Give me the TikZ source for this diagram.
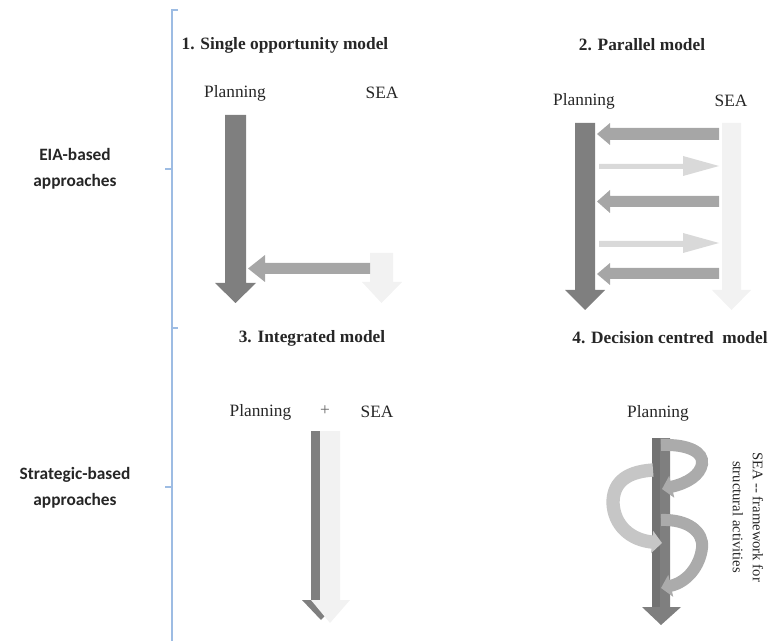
\documentclass[tikz,border=0pt]{standalone}
\usepackage{fontspec}
\setmainfont{Liberation Serif}
\newfontfamily\textserif{Liberation Serif}
\newfontfamily\sidefont{Carlito}
\usetikzlibrary{arrows.meta}

\definecolor{plancol}{HTML}{7F7F7F}
\definecolor{plandark}{HTML}{727272}
\definecolor{feedcol}{HTML}{A6A6A6}
\definecolor{backcol}{HTML}{D9D9D9}
\definecolor{seacol}{HTML}{F2F2F2}
\definecolor{axiscol}{HTML}{9DBCE3}
\definecolor{inkcol}{HTML}{262626}
\definecolor{loopcol}{HTML}{ABABAB}
\definecolor{leftloopcol}{HTML}{C6C6C6}

% block arrow pointing down: shaft x1..x2 from ytop, head from yhead (hx1..hx2) to ytip
\newcommand{\blockdown}[8]{%
  \fill[#8] (#1,#3) -- (#2,#3) -- (#2,#4) -- (#6,#4) -- ({(#1+#2)/2},#7)
    -- (#5,#4) -- (#1,#4) -- cycle;}
% horizontal block arrow: tail x, head base x, tip x, shaft y1..y2, head y1..y2
\newcommand{\blockh}[8]{%
  \fill[#8] (#1,#4) -- (#2,#4) -- (#2,#6) -- (#3,{(#6+#7)/2}) -- (#2,#7)
    -- (#2,#5) -- (#1,#5) -- cycle;}

\tikzset{
  title/.style={font=\textserif\bfseries\fontsize{13}{15}\selectfont, text=inkcol},
  lane/.style={font=\textserif\fontsize{13}{15}\selectfont, text=inkcol},
  side/.style={font=\sidefont\bfseries\fontsize{13}{19.5}\selectfont, text=inkcol, align=center},
  axisline/.style={draw=axiscol, line width=1.5pt},
  band/.style={line width=9pt, -{Triangle[length=7.5pt,width=16.5pt]}},
}

\begin{document}
\begin{tikzpicture}[x=0.75pt,y=-0.75pt]
\useasboundingbox (0,0) rectangle (770,641);

% category axis
\draw[axisline] (178,10) -- (172,10) -- (172,641);
\draw[axisline] (165,169) -- (172,169);
\draw[axisline] (172,328) -- (178,328);
\draw[axisline] (165,487) -- (172,487);

\node[side] (eia) at (75,169) {EIA-based\\approaches};
\node[side] (strat) at (75,488) {Strategic-based\\approaches};

% 1. Single opportunity model
\node[title] (t1) at (285,45) {1. Single opportunity model};
\node[lane] (p1) at (235,93) {Planning};
\node[lane] (s1) at (382,93) {SEA};
\blockdown{225}{246}{115}{283}{215}{256}{303}{plancol}
\blockdown{370}{393}{253}{282}{362}{402}{303}{seacol}
\blockh{370}{265}{248}{263}{274}{255}{282}{feedcol}

% 2. Parallel model
\node[title] (t2) at (642,45) {2. Parallel model};
\node[lane] (p2) at (584,101) {Planning};
\node[lane] (s2) at (731,101) {SEA};
\blockdown{575}{595}{123}{290}{565}{605}{310}{plancol}
\blockdown{722}{741}{123}{290}{712}{751}{310}{seacol}
\blockh{719}{610}{597}{128}{140}{123}{145}{feedcol}
\blockh{719}{610}{597}{196}{207}{190}{213}{feedcol}
\blockh{719}{610}{597}{268}{279}{263}{285}{feedcol}
\blockh{599}{683}{719}{164}{169}{156}{176}{backcol}
\blockh{599}{683}{719}{241}{247}{233}{253}{backcol}

% 3. Integrated model
\node[title] (t3) at (312,338) {3. Integrated model};
\node[lane, anchor=east] (p3) at (296,412) {Planning};
\node[lane, text=inkcol!70] (plus) at (325,411) {+};
\node[lane] (s3) at (377,412) {SEA};
\blockdown{311}{331}{431}{600}{302}{340}{620}{plancol}
\blockdown{320}{340}{431}{600}{311}{350}{623}{seacol}

% 4. Decision centred model
\node[title] (t4) at (670,338) {4. Decision centred\ \ model};
\node[lane] (p4) at (658,413) {Planning};
\blockdown{652}{670}{438}{607}{642}{681}{625}{plancol}
\fill[plandark] (652,438) rectangle (660,607);
\draw[band, loopcol] (661,445) .. controls (688,444) and (704,452) .. (702,464)
  .. controls (700,475) and (688,483) .. (662,489);
\draw[band, leftloopcol, line width=10pt] (653,470) .. controls (622,472) and (613,486) .. (613,503)
  .. controls (614,525) and (630,540) .. (662,543);
\draw[band, loopcol] (661,520) .. controls (688,519) and (704,532) .. (702,548)
  .. controls (700,565) and (688,582) .. (661,588);
\node[lane, font=\textserif\fontsize{11}{15}\selectfont, rotate=-90, align=center] (fw) at (748,517)
  {SEA -- framework for\\structural activities};
\end{tikzpicture}
\end{document}
